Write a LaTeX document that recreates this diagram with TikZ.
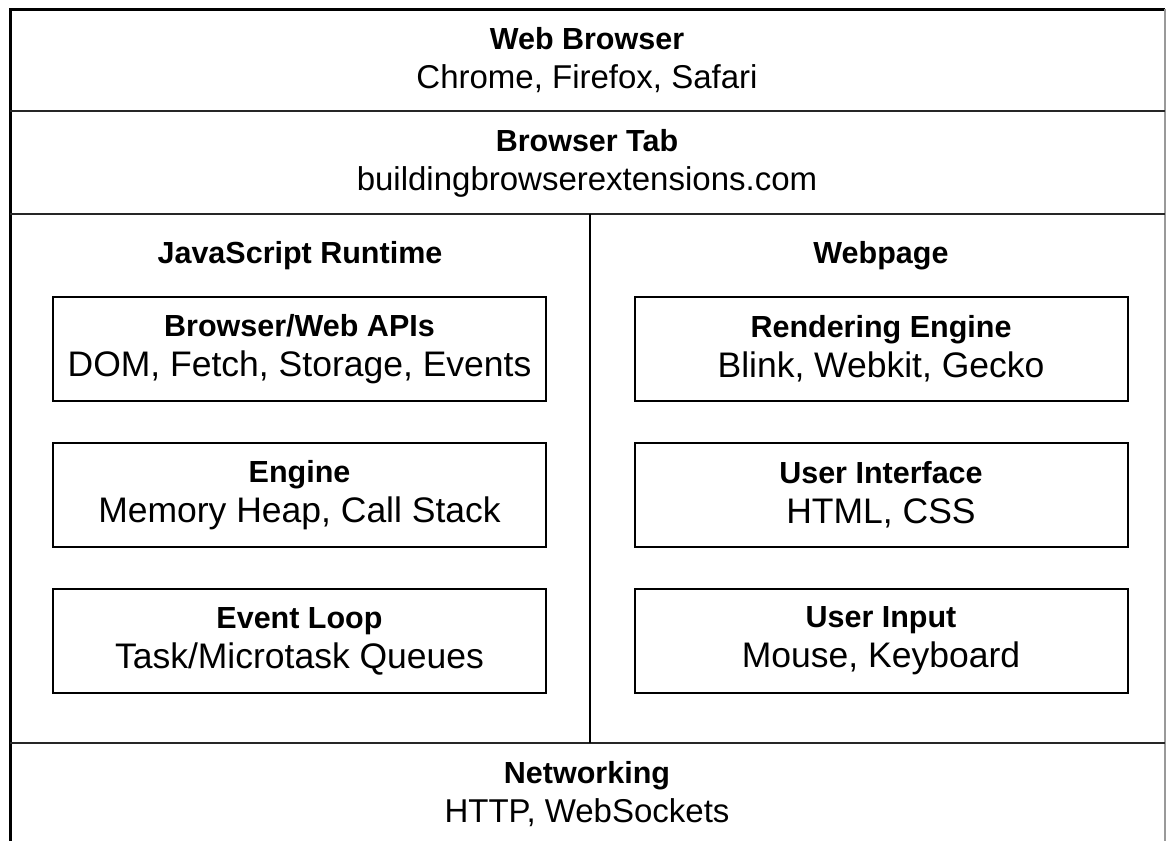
\documentclass[tikz,border=0pt]{standalone}
\usepackage{fontspec}
\setmainfont{Liberation Sans}
\newcommand{\ttl}[1]{{\fontsize{30.5}{39}\selectfont\bfseries #1}}
\begin{document}
\begin{tikzpicture}[x=1pt,y=-1pt,
  txt/.style={align=center, inner sep=0pt, font=\fontsize{33}{39}\selectfont},
  box/.style={txt, draw, line width=2pt, minimum width=493pt, minimum height=104pt,
    font=\fontsize{35.5}{40}\selectfont},
  frame/.style={line width=3pt, black},
  sep/.style={line width=2.4pt, black!85}]
\useasboundingbox (0,0) rectangle (1168,841);
% outer frame
\coordinate (tl) at (10,9);
\coordinate (tr) at (1165,9);
\coordinate (bl) at (10,841);
\coordinate (br) at (1165,841);
\draw[frame] (bl) -- (tl) -- (tr);
\draw[line width=1.5pt, black!40] (tr) -- (br);
% separators
\coordinate (s1l) at (10,111); \coordinate (s1r) at (1165,111);
\coordinate (s2l) at (10,214); \coordinate (s2r) at (1165,214);
\coordinate (s3l) at (10,743); \coordinate (s3r) at (1165,743);
\coordinate (vt) at (590,214); \coordinate (vb) at (590,743);
\draw[sep] (s1l) -- (s1r);
\draw[sep] (s2l) -- (s2r);
\draw[sep] (s3l) -- (s3r);
\draw[line width=2pt] (vt) -- (vb);
% section texts
\node[txt] (browser) at (587,60) {\ttl{Web Browser}\\Chrome, Firefox, Safari};
\node[txt] (tab) at (587,163) {\ttl{Browser Tab}\\buildingbrowserextensions.com};
\node[txt] (net) at (587,794) {\ttl{Networking}\\HTTP, WebSockets};
\node[txt] (jsrt) at (300,256) {\ttl{JavaScript Runtime}};
\node[txt] (webpage) at (881,256) {\ttl{Webpage}};
% left boxes
\node[box] (apis) at (299.5,349) {\ttl{Browser/Web APIs}\\DOM, Fetch, Storage, Events};
\node[box] (engine) at (299.5,495) {\ttl{Engine}\\Memory Heap, Call Stack};
\node[box] (loop) at (299.5,641) {\ttl{Event Loop}\\Task/Microtask Queues};
% right boxes
\node[box] (render) at (881,349) {\ttl{Rendering Engine}\\Blink, Webkit, Gecko};
\node[box] (ui) at (881,495) {\ttl{User Interface}\\HTML, CSS};
\node[box] (input) at (881,641) {\ttl{User Input}\\Mouse, Keyboard};
\end{tikzpicture}
\end{document}
